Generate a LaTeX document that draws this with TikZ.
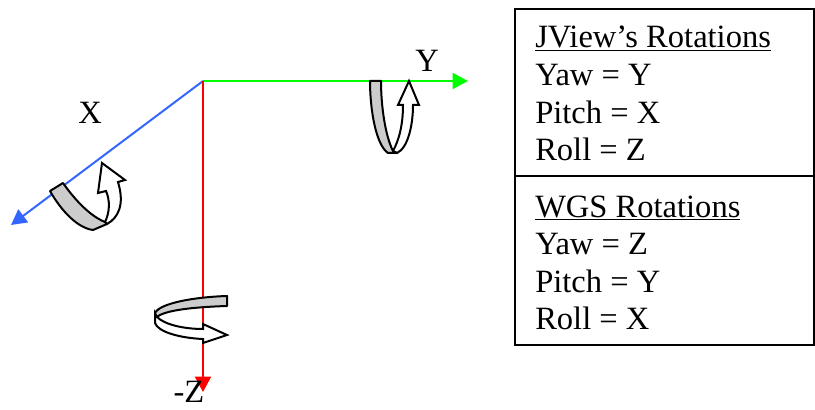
\documentclass[tikz,border=0pt]{standalone}
\usepackage{fontspec}
\setmainfont{Liberation Serif}
\usetikzlibrary{arrows.meta,positioning}
\definecolor{axisgreen}{RGB}{0,255,0}
\definecolor{axisblue}{RGB}{51,102,255}
\definecolor{axisred}{RGB}{255,0,0}
\definecolor{bandgray}{RGB}{204,204,204}
\tikzset{
  rot/axis/.style={line width=1.5pt, -{Triangle[length=11.5pt, width=12pt]}},
  rot/band/.style={draw, fill=bandgray, line width=1.5pt, line join=round},
  rot/shaft/.style={draw, fill=white, line width=1.5pt, line join=miter},
  rot/label/.style={font=\fontsize{24.4pt}{27pt}\selectfont, inner sep=0pt, anchor=base},
  tbl/box/.style={draw, line width=1.5pt, anchor=north west, minimum width=224pt, inner sep=0pt, outer sep=0pt},
  tbl/row/.style={font=\fontsize{24.4pt}{27pt}\selectfont, inner sep=0pt, text height=20pt, text depth=7.8pt, align=left}
}
\begin{document}
\begin{tikzpicture}[x=0.75pt, y=-0.75pt]
  \useasboundingbox (0,0) rectangle (815,410);

  % Axes
  \coordinate (origin) at (203,81);
  \coordinate (ytip) at (468,81);
  \coordinate (xtip) at (11,225);
  \coordinate (ztip) at (203,392);
  \draw[rot/axis, axisgreen] (origin) -- (ytip);
  \draw[rot/axis, axisblue] (origin) -- (xtip);
  \draw[rot/axis, axisred] (origin) -- (ztip);

  % Axis labels
  \node[rot/label] (xlabel) at (90,123) {X};
  \node[rot/label] (ylabel) at (427,72) {Y};
  \node[rot/label] (zlabel) at (189,402) {-Z};

  % Rotation about Y
  \draw[rot/shaft] (397,153) .. controls (408,148) and (413,125) .. (413,105) -- (419,105) -- (409,81)
    -- (398,105) -- (403,105) .. controls (403,125) and (399,140) .. (393,151) -- cycle;
  \draw[rot/band] (370,81) -- (381,81) .. controls (381,105) and (385,135) .. (393,151) -- (397,153)
    -- (388,153) .. controls (376,145) and (370,110) .. cycle;

  % Rotation about X
  \draw[rot/shaft] (107,224) .. controls (118,218) and (125,205) .. (118,182) -- (125,180) -- (102,163)
    -- (98,193) -- (106,191) .. controls (110,200) and (110,212) .. (105,222) -- cycle;
  \draw[rot/band] (50,191) -- (63,183) .. controls (75,200) and (90,216) .. (105,222) -- (107,224)
    -- (93,230) .. controls (78,228) and (62,212) .. cycle;

  % Rotation about Z
  \draw[rot/shaft] (155,313) -- (155,323) .. controls (158,332) and (180,338) .. (203,339) -- (203,343)
    -- (227,335) -- (203,324) -- (203,329) .. controls (185,329) and (165,325) .. (157,317) -- cycle;
  \draw[rot/band] (227,296) -- (227,306) .. controls (195,307) and (165,310) .. (157,317) -- (155,313)
    .. controls (160,303) and (195,297) .. cycle;

  % Table boxes
  \node[tbl/box, minimum height=125.25pt] (jviewbox) at (515,9) {};
  \node[tbl/box, minimum height=126.75pt, below=0pt of jviewbox.south west, anchor=north west] (wgsbox) {};

  % Table rows
  \node[tbl/row, anchor=base west] (jview) at (535,48) {\underline{JView’s Rotations}};
  \node[tbl/row, below right=0pt and 0pt of jview.south west] (jyaw) {Yaw = Y};
  \node[tbl/row, below right=0pt and 0pt of jyaw.south west] (jpitch) {Pitch = X};
  \node[tbl/row, below right=0pt and 0pt of jpitch.south west] (jroll) {Roll = Z};

  \node[tbl/row, anchor=base west] (wgs) at (535,217) {\underline{WGS Rotations}};
  \node[tbl/row, below right=0pt and 0pt of wgs.south west] (wyaw) {Yaw = Z};
  \node[tbl/row, below right=0pt and 0pt of wyaw.south west] (wpitch) {Pitch = Y};
  \node[tbl/row, below right=0pt and 0pt of wpitch.south west] (wroll) {Roll = X};
\end{tikzpicture}
\end{document}
